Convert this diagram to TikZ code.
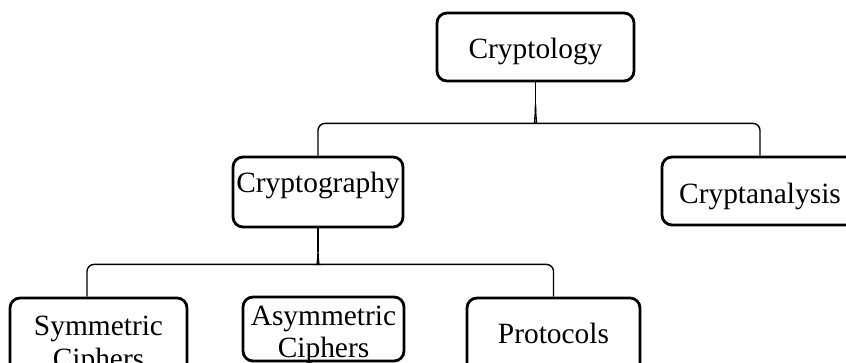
\documentclass[tikz,border=0pt]{standalone}
\usepackage{fontspec}
\setmainfont{Liberation Serif}
\usetikzlibrary{calc}
\begin{document}
\begin{tikzpicture}[x=1pt,y=-1pt,
  box/.style={draw=black,line width=2.8pt,rounded corners=10pt,inner sep=0pt},
  lbl/.style={inner sep=0pt,anchor=base,font=\fontsize{29.4}{33}\selectfont,align=center},
  conn/.style={draw=black,line width=1.4pt}]
\useasboundingbox (0,0) rectangle (846,362);
\clip (0,0) rectangle (846,362);
% boxes
\node[box,minimum width=197pt,minimum height=68pt] (cryptology) at (535.5,47) {};
\node[box,minimum width=170pt,minimum height=70pt] (cryptography) at (318,192) {};
\node[box,minimum width=196pt,minimum height=68pt] (cryptanalysis) at (760,191) {};
\node[box,minimum width=177pt,minimum height=78pt] (symmetric) at (98.5,337) {};
\node[box,minimum width=161pt,minimum height=64pt] (asymmetric) at (323.5,329) {};
\node[box,minimum width=173pt,minimum height=78pt] (protocols) at (553.5,337) {};
% labels
\node[lbl] (tcryptology) at (535.5,58) {Cryptology};
\node[lbl] (tcryptography) at (318,192) {Cryptography};
\node[lbl] (tcryptanalysis) at (760,203) {Cryptanalysis};
\node[lbl] (tsym1) at (98.5,335) {Symmetric};
\node[lbl] (tsym2) at (98.5,368) {Ciphers};
\node[lbl] (tasym1) at (323.5,325) {Asymmetric};
\node[lbl] (tasym2) at (323.5,357) {Ciphers};
\node[lbl] (tprotocols) at (553.5,343) {Protocols};
% brace from Cryptology to its two branches
\draw[conn] (cryptology.south) -- ++(0,22) coordinate (s1);
\draw[conn,rounded corners=7pt] (s1) .. controls +(0,15) and +(5,0) .. ++(-7,19) -| (cryptography.north);
\draw[conn,rounded corners=7pt] (s1) .. controls +(0,15) and +(-5,0) .. ++(7,19) -| (cryptanalysis.north);
% brace from Cryptography to the three kinds
\draw[conn] (cryptography.south) -- ++(0,24) coordinate (s2);
\draw[conn,rounded corners=7pt] (s2) .. controls +(0,11) and +(5,0) .. ++(-7,12) -| (symmetric.north -| 87,0);
\draw[conn,rounded corners=7pt] (s2) .. controls +(0,11) and +(-5,0) .. ++(7,12) -| (protocols.north);
\end{tikzpicture}
\end{document}
